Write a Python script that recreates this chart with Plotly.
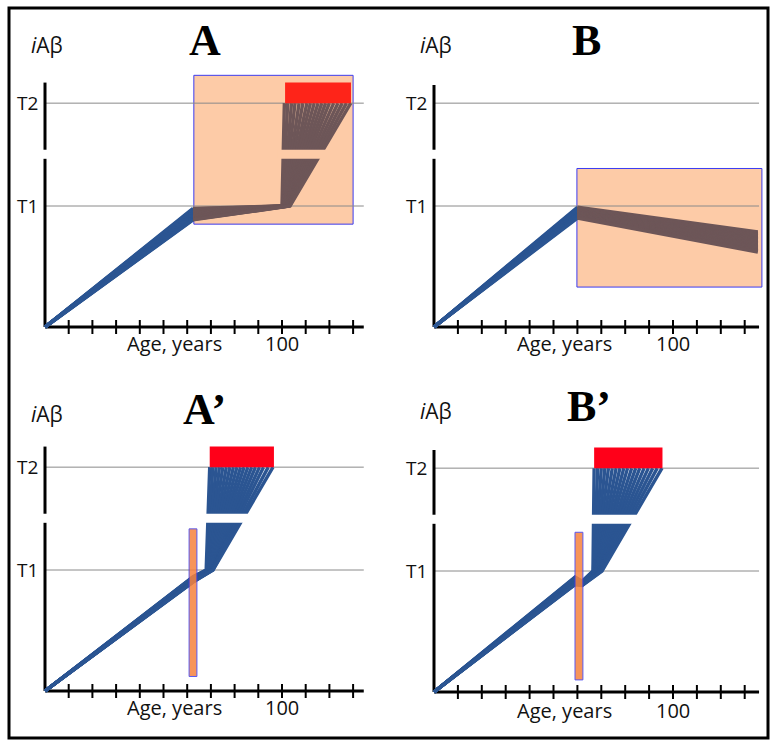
import plotly.graph_objects as go

W, H = 778, 746

# ---------------- data ----------------
T1, T2 = 1.0, 1.85
tick_ages = [10, 20, 30, 40, 50, 60, 70, 80, 90, 100, 110, 120, 130]
x_label = "Age, years"
x_marked_age = 100
x_marked_text = "100"
y_title = "<i>i</i>Aβ"
panel_titles = ["A", "B", "A’", "B’"]
level_labels = ["T1", "T2"]

# Panel A: trajectories origin -> (A_mid_age, A_mid_y) -> (A_kink_age, T1) -> (A_top_age, T2)
A_mid_age = 62.5
A_mid_y = [0.980, 0.975, 0.970, 0.964, 0.958, 0.952, 0.946, 0.940, 0.934,
           0.928, 0.922, 0.916, 0.910, 0.904, 0.898, 0.893, 0.889, 0.885]
A_kink_age = [100.0, 100.2, 100.4, 100.6, 100.8, 101.0, 101.2, 101.4, 101.6,
              101.8, 102.0, 102.2, 102.4, 102.6, 102.8, 103.0, 103.2, 103.4]
A_top_age = [101.0, 102.4, 104.0, 105.5, 107.2, 108.8, 110.5, 112.0, 113.6,
             115.2, 116.8, 118.4, 120.0, 121.8, 123.6, 125.4, 127.2, 129.0]
A_window = [62.8, 130.0, 0.85, 2.08]      # age from, age to, level from, level to
A_red = [101.3, 129.1, T2, 2.02]

# Panel B: origin -> (B_mid_age, B_mid_y) -> (B_end_age, B_end_y)
B_mid_age = 60.0
B_mid_y = [0.990, 0.984, 0.978, 0.972, 0.966, 0.960, 0.954, 0.948,
           0.942, 0.936, 0.930, 0.924, 0.918, 0.912, 0.906, 0.900]
B_end_age = 135.5
B_end_y = [0.785, 0.774, 0.763, 0.752, 0.741, 0.730, 0.719, 0.708,
           0.697, 0.686, 0.675, 0.664, 0.653, 0.642, 0.631, 0.620]
B_window = [59.8, 137.2, 0.33, 1.31]

# Panel A': origin -> (A2_mid_age, A2_mid_y) -> (A2_kink_age, T1) -> (A2_top_age, T2)
A2_mid_age = 62.5
A2_mid_y = [0.945, 0.943, 0.940, 0.937, 0.934, 0.931, 0.928, 0.925, 0.922,
            0.919, 0.916, 0.913, 0.910, 0.908, 0.906, 0.904, 0.902, 0.900]
A2_kink_age = [68.0, 68.2, 68.4, 68.5, 68.7, 68.9, 69.0, 69.2, 69.4,
               69.6, 69.8, 70.0, 70.1, 70.3, 70.5, 70.6, 70.8, 70.9]
A2_top_age = [69.5, 70.8, 72.2, 73.6, 75.0, 76.5, 78.0, 79.5, 81.0,
              82.5, 84.0, 85.6, 87.2, 88.8, 90.5, 92.2, 94.2, 96.2]
A2_red = [69.5, 96.6, T2, 2.02]
A2_bar = [60.8, 64.1, 0.12, 1.34]

# Panel B': origin -> bar in -> bar out -> (B2_kink_age, T1) -> (B2_top_age, T2)
B2_in_age = 59.0
B2_in_y = [0.950, 0.946, 0.942, 0.938, 0.934, 0.930, 0.926, 0.922, 0.918,
           0.914, 0.910, 0.906, 0.902, 0.899, 0.896, 0.893, 0.890, 0.887]
B2_out_age = 62.0
B2_out_y = [0.915, 0.913, 0.911, 0.909, 0.907, 0.905, 0.903, 0.901, 0.899,
            0.897, 0.895, 0.893, 0.891, 0.889, 0.887, 0.885, 0.883, 0.880]
B2_kink_age = [66.5, 66.7, 67.0, 67.2, 67.4, 67.6, 67.8, 68.0, 68.3,
               68.5, 68.8, 69.0, 69.2, 69.4, 69.6, 69.8, 70.0, 70.3]
B2_top_age = [67.0, 68.5, 70.0, 71.5, 73.0, 74.6, 76.2, 77.8, 79.4,
              81.0, 82.7, 84.4, 86.1, 87.9, 89.7, 91.5, 93.4, 95.4]
B2_red = [67.0, 95.6, T2, 2.02]
B2_bar = [59.0, 62.3, 0.10, 1.32]

# ---------------- style / geometry ----------------
BLUE = "#2B5592"
BROWN = "#6D5658"
WIN_FILL = "#FDCBA7"
WIN_LINE = "#3C3CF0"
RED_A = "#FE2419"
RED = "#FF0019"
BAR_FILL = "#F6823D"
GRAY = "#8A8A8A"
TXT_FONT = "'Open Sans', Lato, sans-serif"
TITLE_FONT = "'Liberation Serif', 'DejaVu Serif', serif"

geo = [
    dict(win=(0, 389, 0, 370), origin=(45, 327), xs=2.37, ys=121, xend=134.5, ytop=2.02, gap_x=(98, 127), gap_bg=WIN_FILL),
    dict(win=(389, 778, 0, 370), origin=(434, 327), xs=2.39, ys=121, xend=136.0, ytop=2.00, gap_x=None, gap_bg=None),
    dict(win=(0, 389, 370, 746), origin=(45, 691), xs=2.37, ys=121, xend=134.5, ytop=2.02, gap_x=(65, 100), gap_bg="white"),
    dict(win=(389, 778, 370, 746), origin=(434, 692), xs=2.39, ys=121, xend=136.0, ytop=2.00, gap_x=(64, 100), gap_bg="white"),
]
axis_break = (1.39, 1.465)
title_pos = [(67.5, 2.37), (63.6, 2.37), (67.5, 2.33), (64.9, 2.36)]
label_y = [-0.135, -0.14, -0.14, -0.15]

fig = go.Figure()
layout_axes = {}
shapes_below, shapes_above, annotations = [], [], []

for i, g in enumerate(geo):
    sfx = "" if i == 0 else str(i + 1)
    x0, x1, y0, y1 = g["win"]
    ox, oy = g["origin"]
    layout_axes["xaxis" + sfx] = dict(domain=[x0 / W, x1 / W], range=[(x0 - ox) / g["xs"], (x1 - ox) / g["xs"]],
                                      visible=False, fixedrange=True, anchor="y" + sfx)
    layout_axes["yaxis" + sfx] = dict(domain=[1 - y1 / H, 1 - y0 / H], range=[(oy - y1) / g["ys"], (oy - y0) / g["ys"]],
                                      visible=False, fixedrange=True, anchor="x" + sfx)
    g["xr"], g["yr"] = "x" + sfx, "y" + sfx


def seg_trace(paths, color, g, width=3.4):
    xs, ys = [], []
    for p in paths:
        for (x, y) in p:
            xs.append(x)
            ys.append(y)
        xs.append(None)
        ys.append(None)
    return go.Scatter(x=xs, y=ys, mode="lines", line=dict(color=color, width=width),
                      xaxis=g["xr"], yaxis=g["yr"], hoverinfo="skip", showlegend=False)


def rect(g, box, fill, line=None, lw=1, opacity=1.0):
    return dict(type="rect", xref=g["xr"], yref=g["yr"], x0=box[0], x1=box[1], y0=box[2], y1=box[3],
                fillcolor=fill, opacity=opacity,
                line=dict(color=line if line else fill, width=lw if line else 0))


# highlighted windows (below everything)
shapes_below.append(rect(geo[0], A_window, WIN_FILL, WIN_LINE, 1))
shapes_below.append(rect(geo[1], B_window, WIN_FILL, WIN_LINE, 1))

for i, g in enumerate(geo):
    # threshold lines
    for lev in (T1, T2):
        shapes_below.append(dict(type="line", xref=g["xr"], yref=g["yr"], x0=0, x1=g["xend"], y0=lev, y1=lev,
                                 line=dict(color=GRAY, width=1)))
    # broken y axis
    shapes_below.append(dict(type="line", xref=g["xr"], yref=g["yr"], x0=0, x1=0, y0=0, y1=axis_break[0],
                             line=dict(color="black", width=3)))
    shapes_below.append(dict(type="line", xref=g["xr"], yref=g["yr"], x0=0, x1=0, y0=axis_break[1], y1=g["ytop"],
                             line=dict(color="black", width=3)))
    # x axis
    shapes_below.append(dict(type="line", xref=g["xr"], yref=g["yr"], x0=0, x1=g["xend"], y0=0, y1=0,
                             line=dict(color="black", width=3)))
    # gap in the fan
    if g["gap_x"]:
        shapes_above.append(rect(g, [g["gap_x"][0], g["gap_x"][1], axis_break[0], axis_break[1]], g["gap_bg"]))

# trajectories
gA, gB, gA2, gB2 = geo
fig.add_trace(seg_trace([[(0, 0), (A_mid_age, y)] for y in A_mid_y], BLUE, gA))
fig.add_trace(seg_trace([[(A_mid_age, y), (k, T1), (t, T2)] for y, k, t in zip(A_mid_y, A_kink_age, A_top_age)], BROWN, gA))
fig.add_trace(seg_trace([[(0, 0), (B_mid_age, y)] for y in B_mid_y], BLUE, gB))
fig.add_trace(seg_trace([[(B_mid_age, y), (B_end_age, z)] for y, z in zip(B_mid_y, B_end_y)], BROWN, gB))
fig.add_trace(seg_trace([[(0, 0), (A2_mid_age, y), (k, T1), (t, T2)] for y, k, t in zip(A2_mid_y, A2_kink_age, A2_top_age)], BLUE, gA2))
fig.add_trace(seg_trace([[(0, 0), (B2_in_age, y), (B2_out_age, yo), (k, T1), (t, T2)]
                         for y, yo, k, t in zip(B2_in_y, B2_out_y, B2_kink_age, B2_top_age)], BLUE, gB2))

# red T2 blocks and bars
shapes_above.append(rect(gA, A_red, RED_A))
shapes_above.append(rect(gA2, A2_red, RED))
shapes_above.append(rect(gB2, B2_red, RED))
shapes_above.append(rect(gA2, A2_bar, BAR_FILL, WIN_LINE, 1, 0.85))
shapes_above.append(rect(gB2, B2_bar, BAR_FILL, WIN_LINE, 1, 0.85))

for i, g in enumerate(geo):
    # tick marks
    fig.add_trace(go.Scatter(x=tick_ages, y=[0] * len(tick_ages), mode="markers",
                             marker=dict(symbol="line-ns", size=10, line=dict(color="black", width=2)),
                             xaxis=g["xr"], yaxis=g["yr"], hoverinfo="skip", showlegend=False))
    for lev, lab in zip((T1, T2), level_labels):
        annotations.append(dict(xref=g["xr"], yref=g["yr"], x=0, y=lev, text=lab, showarrow=False,
                                xanchor="right", xshift=-5, font=dict(family=TXT_FONT, size=19, color="#111")))
    annotations.append(dict(xref=g["xr"], yref=g["yr"], x=0.8, y=title_pos[i][1] - 0.04, text=y_title, showarrow=False,
                            font=dict(family=TXT_FONT, size=21, color="#111")))
    annotations.append(dict(xref=g["xr"], yref=g["yr"], x=title_pos[i][0], y=title_pos[i][1], text=panel_titles[i],
                            showarrow=False, font=dict(family=TITLE_FONT, size=44, color="black", weight="bold")))
    annotations.append(dict(xref=g["xr"], yref=g["yr"], x=54.5, y=label_y[i], text=x_label, showarrow=False,
                            font=dict(family=TXT_FONT, size=20, color="#111")))
    annotations.append(dict(xref=g["xr"], yref=g["yr"], x=x_marked_age, y=label_y[i], text=x_marked_text,
                            showarrow=False, font=dict(family=TXT_FONT, size=20, color="#111")))

for s in shapes_below:
    s["layer"] = "below"
for s in shapes_above:
    s["layer"] = "above"

frame = dict(type="rect", xref="paper", yref="paper", x0=9 / W, x1=768 / W, y0=1 - 738 / H, y1=1 - 8 / H,
             line=dict(color="black", width=3), fillcolor="rgba(0,0,0,0)", layer="above")

fig.update_layout(
    width=W, height=H, margin=dict(l=0, r=0, t=0, b=0),
    paper_bgcolor="white", plot_bgcolor="rgba(0,0,0,0)",
    shapes=shapes_below + shapes_above + [frame],
    annotations=annotations,
    showlegend=False,
    **layout_axes,
)

fig.write_html("out.html", config={"displayModeBar": False},
               post_script="document.body.style.margin='0';document.body.style.overflow='hidden';")
